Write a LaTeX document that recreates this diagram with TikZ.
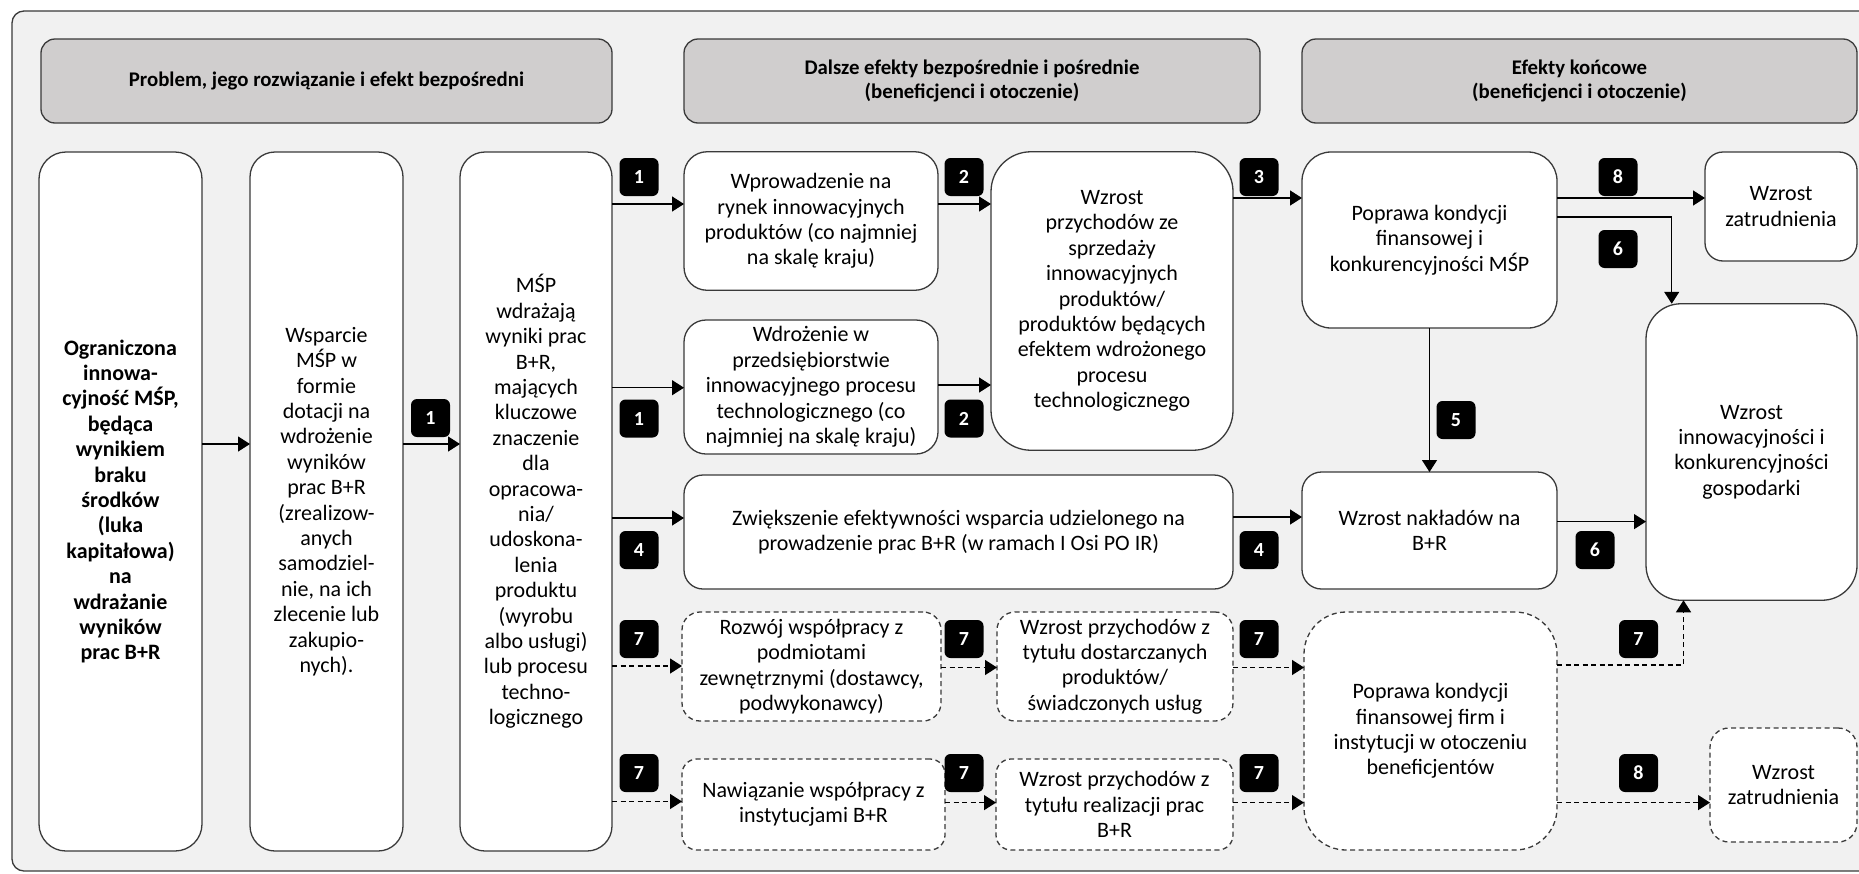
\documentclass[tikz,border=0pt]{standalone}
\usepackage{fontspec}
\setmainfont{Carlito}
\usetikzlibrary{arrows.meta,calc}
\definecolor{bgc}{HTML}{F1F1F1}
\definecolor{hdrc}{HTML}{D0CECE}
\definecolor{edgec}{HTML}{3A3A3A}
\begin{document}
\begin{tikzpicture}[x=1pt,y=-1pt,
  every node/.style={inner sep=0pt, outer sep=0pt},
  sz/.style n args={2}{minimum width=#1pt, minimum height=#2pt},
  boxb/.style={draw=edgec, line width=1.3pt, fill=white, align=center, font=\fontsize{22}{25.4}\selectfont},
  dbox/.style={boxb, dash pattern=on 5pt off 3.5pt},
  hdr/.style={draw=edgec, line width=1.3pt, fill=hdrc, rounded corners=14pt, align=center, minimum height=84pt, font=\bfseries\fontsize{20.8}{24.6}\selectfont},
  num/.style={fill=black, rounded corners=6pt, minimum width=39pt, minimum height=38pt, text=white, font=\bfseries\fontsize{20}{24}\selectfont},
  arr/.style={line width=1.3pt, draw=black, -{Triangle[width=15pt,length=12pt]}},
  darr/.style={arr, dash pattern=on 5pt off 3.5pt},
]
\useasboundingbox (0,0) rectangle (1859,873);
\clip (0,0) rectangle (1859,873);
\fill[white] (0,0) rectangle (1859,873);
\draw[line width=1.3pt, draw=edgec, fill=bgc, rounded corners=12pt] (12,11) rectangle (1920,871);

% headers
\node[hdr, minimum width=571pt] (H1) at (326.5,81) {Problem, jego rozwiązanie i efekt bezpośredni};
\node[hdr, minimum width=576pt] (H2) at (972,81) {Dalsze efekty bezpośrednie i pośrednie\\(beneficjenci i otoczenie)};
\node[hdr, minimum width=555pt] (H3) at (1579.5,81) {Efekty końcowe\\(beneficjenci i otoczenie)};

% column boxes
\node[boxb, sz={163}{699}, rounded corners=27pt, font=\bfseries\fontsize{22}{25.4}\selectfont] (A) at (120.5,501.5)
  {Ograniczona\\innowa-\\cyjność MŚP,\\będąca\\wynikiem\\braku\\środków\\(luka\\kapitałowa)\\na\\wdrażanie\\wyników\\prac B+R};
\node[boxb, sz={153}{699}, rounded corners=25pt] (B) at (326.5,501.5)
  {Wsparcie\\MŚP w\\formie\\dotacji na\\wdrożenie\\wyników\\prac B+R\\(zrealizow-\\anych\\samodziel-\\nie, na ich\\zlecenie lub\\zakupio-\\nych).};
\node[boxb, sz={152}{699}, rounded corners=25pt] (C) at (536,501.5)
  {MŚP\\wdrażają\\wyniki prac\\B+R,\\mających\\kluczowe\\znaczenie\\dla\\opracowa-\\nia/\\udoskona-\\lenia\\produktu\\(wyrobu\\albo usługi)\\lub procesu\\techno-\\logicznego};

% middle
\node[boxb, sz={254}{138.5}, rounded corners=23pt] (D1) at (811,221)
  {Wprowadzenie na\\rynek innowacyjnych\\produktów (co najmniej\\na skalę kraju)};
\node[boxb, sz={254}{134}, rounded corners=22pt] (D2) at (811,387)
  {Wdrożenie w\\przedsiębiorstwie\\innowacyjnego procesu\\technologicznego (co\\najmniej na skalę kraju)};
\node[boxb, sz={242}{298.5}, rounded corners=40pt] (E) at (1112,301)
  {Wzrost\\przychodów ze\\sprzedaży\\innowacyjnych\\produktów/\\produktów będących\\efektem wdrożonego\\procesu\\technologicznego};
\node[boxb, sz={549}{114}, rounded corners=19pt] (F) at (958.5,532)
  {Zwiększenie efektywności wsparcia udzielonego na\\prowadzenie prac B+R (w ramach I Osi PO IR)};
\node[dbox, sz={259}{109}, rounded corners=18pt] (G1) at (811.5,666.5)
  {Rozwój współpracy z\\podmiotami\\zewnętrznymi (dostawcy,\\podwykonawcy)};
\node[dbox, sz={236}{109}, rounded corners=18pt] (G2) at (1115,666.5)
  {Wzrost przychodów z\\tytułu dostarczanych\\produktów/\\świadczonych usług};
\node[dbox, sz={263}{91}, rounded corners=15pt] (H1b) at (813.5,804.5)
  {Nawiązanie współpracy z\\instytucjami B+R};
\node[dbox, sz={237}{91}, rounded corners=15pt] (H2b) at (1114.5,804.5)
  {Wzrost przychodów z\\tytułu realizacji prac\\B+R};

% right
\node[boxb, sz={255}{176}, rounded corners=29pt] (P) at (1429.5,240)
  {Poprawa kondycji\\finansowej i\\konkurencyjności MŚP};
\node[boxb, sz={152}{109}, rounded corners=18pt] (Z1) at (1781,206.5)
  {Wzrost\\zatrudnienia};
\node[boxb, sz={211}{296.5}, rounded corners=35pt] (W) at (1751.5,452)
  {Wzrost\\innowacyjności i\\konkurencyjności\\gospodarki};
\node[boxb, sz={255}{117}, rounded corners=19.5pt] (N) at (1429.5,530.5)
  {Wzrost nakładów na\\B+R};
\node[dbox, sz={253}{238}, rounded corners=42pt] (Q) at (1430.5,731)
  {Poprawa kondycji\\finansowej firm i\\instytucji w otoczeniu\\beneficjentów};
\node[dbox, sz={147}{114}, rounded corners=19pt] (Z2) at (1783.5,785)
  {Wzrost\\zatrudnienia};

% connectors
\draw[arr] (A.east |- 0,444) -- (B.west |- 0,444);
\draw[arr] (B.east |- 0,444) -- (C.west |- 0,444);
\draw[arr] (C.east |- 0,204) -- (D1.west |- 0,204);
\draw[arr] (C.east |- 0,387.7) -- (D2.west |- 0,387.7);
\draw[arr] (C.east |- 0,518) -- (F.west |- 0,518);
\draw[darr] (C.east |- 0,666) -- (G1.west |- 0,666);
\draw[darr] (C.east |- 0,801.5) -- (H1b.west |- 0,801.5);
\draw[arr] (D1.east |- 0,204) -- (E.west |- 0,204);
\draw[arr] (D2.east |- 0,385) -- (E.west |- 0,385);
\draw[darr] (G1.east |- 0,667.5) -- (G2.west |- 0,667.5);
\draw[darr] (H1b.east |- 0,802.6) -- (H2b.west |- 0,802.6);
\draw[arr] (E.east |- 0,198) -- (P.west |- 0,198);
\draw[arr] (F.east |- 0,517) -- (N.west |- 0,517);
\draw[darr] (G2.east |- 0,667.5) -- (Q.west |- 0,667.5);
\draw[darr] (H2b.east |- 0,802.6) -- (Q.west |- 0,802.6);
\draw[arr] (P.east |- 0,198) -- (Z1.west |- 0,198);
\draw[arr] (P.east |- 0,217) -| (W.north -| 1671.7,0);
\draw[arr] (P.south) -- (N.north);
\draw[arr] (N.east |- 0,521.6) -- (W.west |- 0,521.6);
\draw[darr] (Q.east |- 0,665) -| (W.south -| 1683.5,0);
\draw[darr] (Q.east |- 0,802.6) -- (Z2.west |- 0,802.6);

% number tags
\node[num] (t1) at (430.5,418) {1};
\node[num] (t2) at (639,177) {1};
\node[num] (t3) at (639,418.5) {1};
\node[num] (t4) at (639,550) {4};
\node[num] (t5) at (639,639) {7};
\node[num] (t6) at (639,773) {7};
\node[num] (t7) at (964,177) {2};
\node[num] (t8) at (964,418.5) {2};
\node[num] (t9) at (964,639) {7};
\node[num] (t10) at (964,773) {7};
\node[num] (t11) at (1259,177) {3};
\node[num] (t12) at (1259,550) {4};
\node[num] (t13) at (1259,639) {7};
\node[num] (t14) at (1259,773) {7};
\node[num] (t15) at (1618,177) {8};
\node[num] (t16) at (1618,249) {6};
\node[num] (t17) at (1456,420) {5};
\node[num] (t18) at (1595,550) {6};
\node[num] (t19) at (1638.5,639) {7};
\node[num] (t20) at (1638.5,773) {8};
\end{tikzpicture}
\end{document}
